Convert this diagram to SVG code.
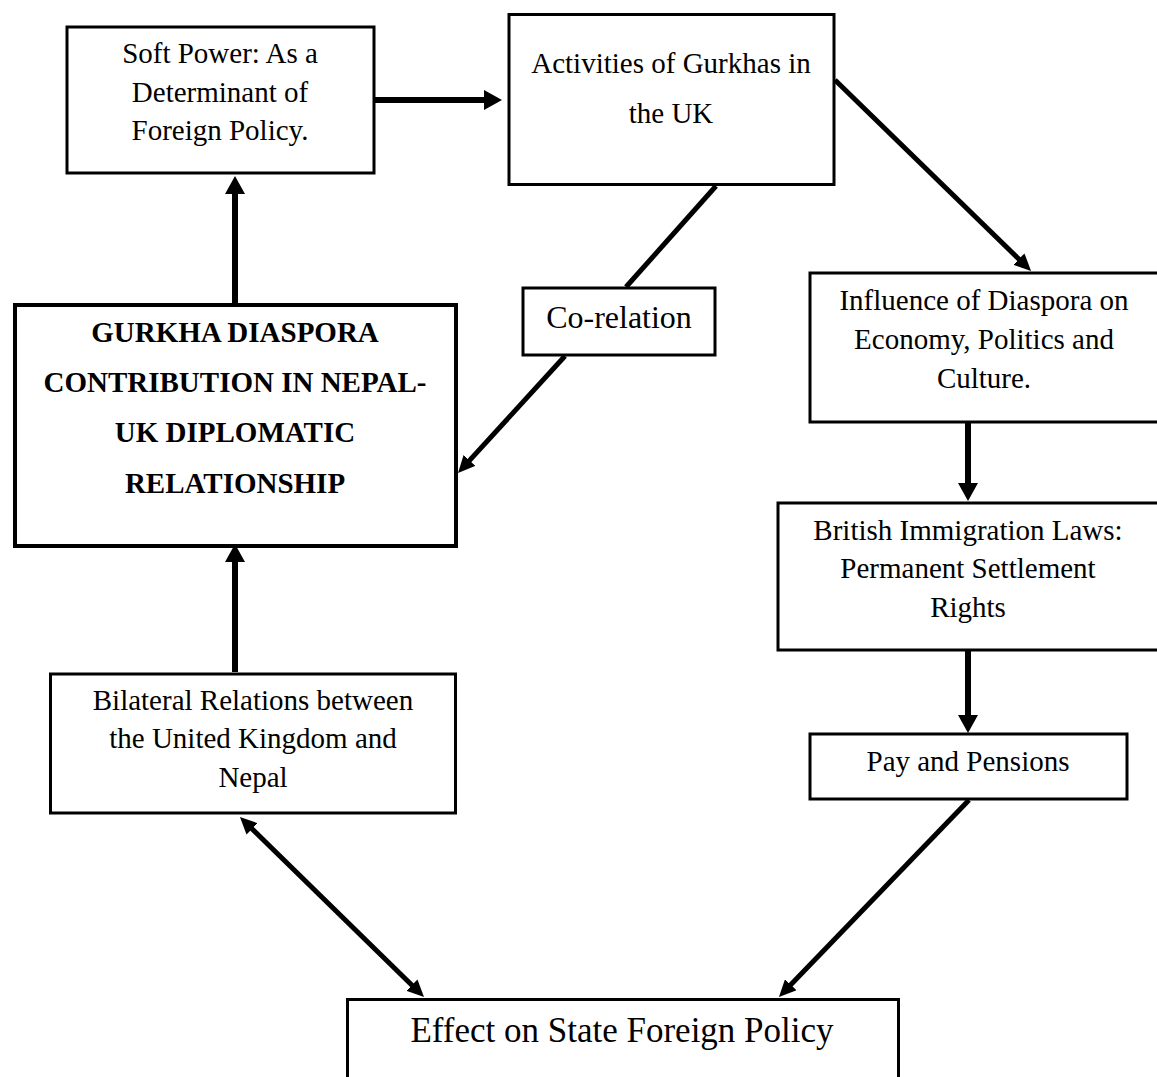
<svg xmlns="http://www.w3.org/2000/svg" width="1157" height="1077" viewBox="0 0 1157 1077">
<defs>
<style>
.box{fill:#fff;stroke:#000;stroke-width:3}
.main{stroke-width:4}
.t{font-family:"Liberation Serif","Times New Roman",serif;font-size:29px;fill:#000;text-anchor:middle}
.b{font-weight:bold}
.c{stroke:#000;fill:none;stroke-width:6}
.d{stroke:#000;fill:none;stroke-width:5}
</style>
<marker id="ah" markerUnits="userSpaceOnUse" markerWidth="18" markerHeight="20" viewBox="0 0 18 20" refX="9" refY="10" orient="auto">
<path d="M0,0 L18,10 L0,20 z" fill="#000"/>
</marker>
<marker id="ahs" markerUnits="userSpaceOnUse" markerWidth="17" markerHeight="16" viewBox="0 0 17 16" refX="8" refY="8" orient="auto-start-reverse">
<path d="M0,0 L17,8 L0,16 z" fill="#000"/>
</marker>
</defs>
<rect width="1157" height="1077" fill="#fff"/>

<g id="connectors">
<line class="c" x1="375" y1="100" x2="493" y2="100" marker-end="url(#ah)"/>
<line class="c" x1="235" y1="303" x2="235" y2="185" marker-end="url(#ah)"/>
<line class="c" x1="235" y1="672" x2="235" y2="553" marker-end="url(#ah)"/>
<line class="d" x1="716" y1="186" x2="626" y2="287"/>
<line class="d" x1="565" y1="356" x2="464.1" y2="466.4" marker-end="url(#ahs)"/>
<line class="d" x1="835" y1="80" x2="1024.6" y2="264.7" marker-end="url(#ahs)"/>
<line class="c" x1="968" y1="423" x2="968" y2="492" marker-end="url(#ah)"/>
<line class="c" x1="968" y1="651" x2="968" y2="724" marker-end="url(#ah)"/>
<line class="d" x1="969" y1="800" x2="785.2" y2="990.5" marker-end="url(#ahs)"/>
<line class="d" x1="246.4" y1="823.3" x2="417.6" y2="990.7" marker-start="url(#ahs)" marker-end="url(#ahs)"/>
</g>

<g id="soft-power">
<rect class="box" x="67" y="27" width="307" height="146"/>
<text class="t" x="220" y="63">Soft Power: As a</text>
<text class="t" x="220" y="102">Determinant of</text>
<text class="t" x="220" y="140">Foreign Policy.</text>
</g>

<g id="activities">
<rect class="box" x="509" y="14.5" width="325" height="170"/>
<text class="t" x="671" y="73">Activities of Gurkhas in</text>
<text class="t" x="671" y="123">the UK</text>
</g>

<g id="co-relation">
<rect class="box" x="523" y="288" width="192" height="67"/>
<text class="t" x="619" y="328" style="font-size:32px">Co-relation</text>
</g>

<g id="influence">
<rect class="box" x="810" y="273" width="360" height="149"/>
<text class="t" x="984" y="310">Influence of Diaspora on</text>
<text class="t" x="984" y="349">Economy, Politics and</text>
<text class="t" x="984" y="388">Culture.</text>
</g>

<g id="gurkha">
<rect class="box main" x="15" y="305" width="441" height="241"/>
<text class="t b" x="235" y="342">GURKHA DIASPORA</text>
<text class="t b" x="235" y="392">CONTRIBUTION IN NEPAL-</text>
<text class="t b" x="235" y="442">UK DIPLOMATIC</text>
<text class="t b" x="235" y="493">RELATIONSHIP</text>
</g>

<g id="british">
<rect class="box" x="778" y="503" width="400" height="147"/>
<text class="t" x="968" y="540">British Immigration Laws:</text>
<text class="t" x="968" y="578">Permanent Settlement</text>
<text class="t" x="968" y="617">Rights</text>
</g>

<g id="pay">
<rect class="box" x="810" y="734" width="317" height="65"/>
<text class="t" x="968" y="771">Pay and Pensions</text>
</g>

<g id="bilateral">
<rect class="box" x="50.5" y="674" width="405" height="139"/>
<text class="t" x="253" y="710">Bilateral Relations between</text>
<text class="t" x="253" y="748">the United Kingdom and</text>
<text class="t" x="253" y="787">Nepal</text>
</g>

<g id="effect">
<rect class="box" x="347.5" y="999.5" width="551" height="100"/>
<text class="t" x="622" y="1042" style="font-size:35px">Effect on State Foreign Policy</text>
</g>
</svg>
